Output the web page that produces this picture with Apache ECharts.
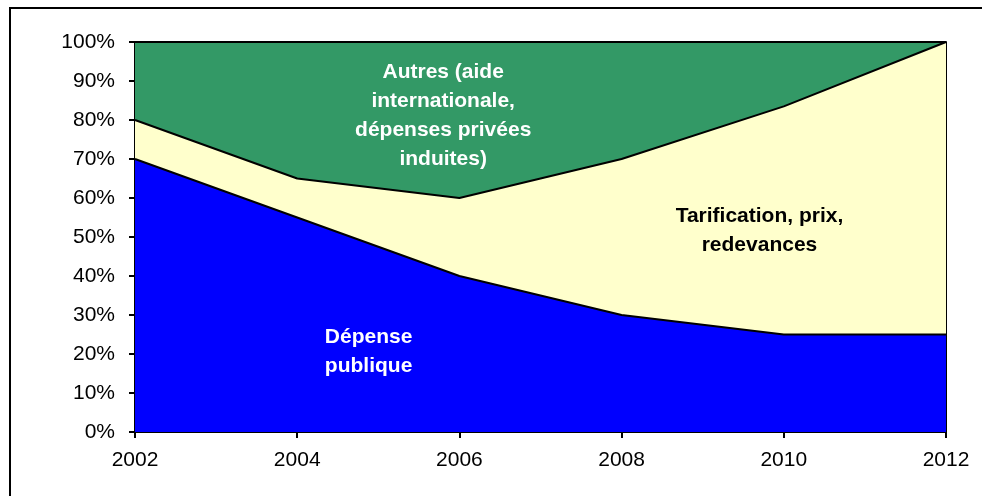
<!DOCTYPE html>
<html style="height: 100%">
<head>
<meta charset="utf-8">
<script src="https://cdn.jsdelivr.net/npm/echarts@6/dist/echarts.min.js"></script>
</head>
<body style="height: 100%; margin: 0; background: #fff;">
<div id="container" style="width: 982px; height: 496px;"></div>
<script type="text/javascript">
// années et parts (%)
var years = ['2002', '2004', '2006', '2008', '2010', '2012'];
var depensePublique = [70, 55, 40, 30, 25, 25];
var tarification = [10, 10, 20, 40, 58.5, 75];
var autres = [20, 35, 40, 30, 16.5, 0];
var yTicks = [0, 10, 20, 30, 40, 50, 60, 70, 80, 90, 100];

var dom = document.getElementById("container");
var myChart = echarts.init(dom);

var font = '"Liberation Sans", Arial, sans-serif';
var edge = { color: '#000', width: 2 };

var option = {
    animation: false,
    grid: { left: 135, right: 36, top: 42, bottom: 64 },
    xAxis: {
        type: 'category',
        data: years,
        boundaryGap: false,
        axisLine: { lineStyle: { color: '#000', width: 2 } },
        axisTick: { length: 6, lineStyle: { color: '#000', width: 2 } },
        axisLabel: { color: '#000', fontSize: 21, fontFamily: font, margin: 18 },
        splitLine: { show: false }
    },
    yAxis: [{
        type: 'value',
        min: yTicks[0],
        max: yTicks[yTicks.length - 1],
        interval: 10,
        axisLine: { show: true, lineStyle: { color: '#000', width: 2 } },
        axisTick: { show: true, length: 6, lineStyle: { color: '#000', width: 2 } },
        axisLabel: { color: '#000', fontSize: 21, fontFamily: font, margin: 20,
            formatter: function (v) { return v + '%'; } },
        splitLine: { show: false }
    }, {
        type: 'value',
        position: 'right',
        min: 0, max: 100,
        axisLine: { show: true, lineStyle: { color: '#000', width: 2 } },
        axisTick: { show: false },
        axisLabel: { show: false },
        splitLine: { show: false }
    }],
    series: [
        {
            name: 'Dépense publique', type: 'line', stack: 'total',
            symbol: 'none', data: depensePublique,
            lineStyle: edge, areaStyle: { color: '#0000FF', opacity: 1 }
        },
        {
            name: 'Tarification, prix, redevances', type: 'line', stack: 'total',
            symbol: 'none', data: tarification,
            lineStyle: edge, areaStyle: { color: '#FFFFCC', opacity: 1 }
        },
        {
            name: 'Autres', type: 'line', stack: 'total',
            symbol: 'none', data: autres,
            lineStyle: edge, areaStyle: { color: '#339966', opacity: 1 }
        }
    ]
};
myChart.setOption(option);

// étiquettes : position en indice de catégorie (fractionnaire) et en %
var notes = [
    { at: [1.9, 81.2], text: 'Autres (aide\ninternationale,\ndépenses privées\ninduites)', color: '#fff' },
    { at: [3.85, 51.7], text: 'Tarification, prix,\nredevances', color: '#000' },
    { at: [1.44, 20.5], text: 'Dépense\npublique', color: '#fff' }
];
function toPixel(idx, val) {
    var a = myChart.convertToPixel({ xAxisIndex: 0, yAxisIndex: 0 }, [0, val]);
    var b = myChart.convertToPixel({ xAxisIndex: 0, yAxisIndex: 0 }, [1, val]);
    return [a[0] + (b[0] - a[0]) * idx, a[1]];
}
var graphics = [{
    type: 'rect', z: 100,
    shape: { x: 10, y: 8, width: 1000, height: 600 },
    style: { fill: 'none', stroke: '#000', lineWidth: 2 }
}];
notes.forEach(function (n) {
    var p = toPixel(n.at[0], n.at[1]);
    graphics.push({
        type: 'text', z: 100, x: p[0], y: p[1],
        style: {
            text: n.text, fill: n.color, font: 'bold 21px ' + font,
            align: 'center', verticalAlign: 'middle', lineHeight: 29
        }
    });
});
myChart.setOption({ graphic: graphics });
</script>
</body>
</html>
